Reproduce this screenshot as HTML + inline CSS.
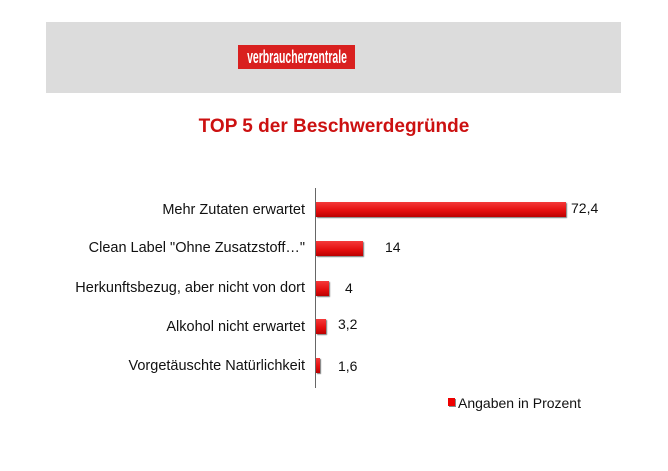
<!DOCTYPE html>
<html><head><meta charset="utf-8"><style>
body{margin:0;width:668px;height:471px;background:#fff;font-family:"Liberation Sans",sans-serif;position:relative;overflow:hidden}
.a{position:absolute}
.band{left:46px;top:22px;width:575px;height:71px;background:#dcdcdc}
.logo{left:238px;top:45px;width:117px;height:24px;background:#d9201f;overflow:hidden}
.logo span{display:block;width:200px;margin-left:-41.5px;text-align:center;color:#fff;font-family:"Liberation Sans Narrow","Liberation Sans",sans-serif;font-size:18px;line-height:24px;transform:scaleX(0.58);font-weight:bold}
.title{left:0;width:668px;top:116px;text-align:center;color:#cc1111;font-size:19px;font-weight:bold}
.lab{right:363px;font-size:14.5px;color:#111;text-align:right;white-space:nowrap}
.bar{left:316px;height:15px;background:linear-gradient(#f43a3a,#e30d0d 60%,#b00 100%);box-shadow:1px 1px 1px #777}
.v{font-size:14px;color:#111}
</style></head><body>
<div class="a band"></div>
<div class="a logo"><span>verbraucherzentrale</span></div>
<div class="a title">TOP 5 der Beschwerdegründe</div>
<div class="a" style="left:315px;top:188px;width:1px;height:200px;background:#666"></div>

<div class="a lab" style="top:202px">Mehr Zutaten erwartet</div>
<div class="a bar" style="top:202px;width:250px"></div>
<div class="a v" style="left:571px;top:200px">72,4</div>

<div class="a lab" style="top:240px">Clean Label "Ohne Zusatzstoff…"</div>
<div class="a bar" style="top:241px;width:47px"></div>
<div class="a v" style="left:385px;top:239px">14</div>

<div class="a lab" style="top:280px">Herkunftsbezug, aber nicht von dort</div>
<div class="a bar" style="top:281px;width:13px"></div>
<div class="a v" style="left:345px;top:280px">4</div>

<div class="a lab" style="top:319px">Alkohol nicht erwartet</div>
<div class="a bar" style="top:319px;width:10px"></div>
<div class="a v" style="left:338px;top:316px">3,2</div>

<div class="a lab" style="top:358px">Vorgetäuschte Natürlichkeit</div>
<div class="a bar" style="top:358px;width:4px"></div>
<div class="a v" style="left:338px;top:358px">1,6</div>

<div class="a" style="left:448px;top:398px;width:7px;height:8px;background:#e00;box-shadow:1px 1px 0 #888"></div>
<div class="a v" style="left:458px;top:395px">Angaben in Prozent</div>
</body></html>
